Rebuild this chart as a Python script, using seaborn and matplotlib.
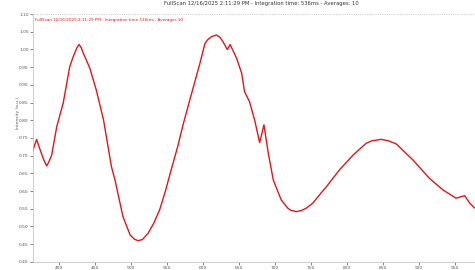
import matplotlib
matplotlib.use("Agg")
import numpy as np
import pandas as pd
import matplotlib.pyplot as plt
from matplotlib.ticker import MultipleLocator
import seaborn as sns

# Spectrum values
wavelength = [364, 369, 374, 379, 383, 386, 390, 397, 406, 415, 420, 425, 428, 431,
              434, 443, 452, 462, 473, 478, 489, 499, 505, 510, 516, 524, 532, 540,
              548, 556, 565, 573, 585, 596, 603, 607, 612, 619, 624, 628, 634, 638,
              647, 654, 658, 665, 672, 679, 685, 691, 698, 709, 718, 722, 730, 737,
              744, 753, 760, 772, 790, 809, 827, 835, 848, 858, 869, 892, 915, 934,
              952, 964, 971, 978]
intensity = [0.716, 0.746, 0.716, 0.688, 0.671, 0.682, 0.702, 0.782, 0.849, 0.951,
             0.980, 1.005, 1.014, 1.005, 0.989, 0.947, 0.885, 0.801, 0.669, 0.631,
             0.528, 0.476, 0.464, 0.460, 0.463, 0.481, 0.510, 0.547, 0.600, 0.660,
             0.725, 0.791, 0.880, 0.961, 1.017, 1.028, 1.036, 1.041, 1.034, 1.022,
             1.000, 1.014, 0.975, 0.933, 0.881, 0.852, 0.801, 0.737, 0.787, 0.707,
             0.631, 0.575, 0.552, 0.546, 0.542, 0.545, 0.552, 0.566, 0.584, 0.613,
             0.660, 0.702, 0.735, 0.742, 0.746, 0.742, 0.733, 0.688, 0.636, 0.603,
             0.580, 0.587, 0.566, 0.552]

title = "FullScan 12/16/2025 2:11:29 PM - Integration time: 536ms - Averages: 10"
series_name = "FullScan 12/16/2025 2:11:29 PM - Integration time 536ms - Averages 10"

df = pd.DataFrame({"wavelength": wavelength, "intensity": intensity})

sns.set_style("white")
fig = plt.figure(figsize=(4.75, 2.7), dpi=100)
ax = fig.add_axes([0.0695, 0.03, 0.93, 0.918])

sns.lineplot(data=df, x="wavelength", y="intensity", color="#e0161c",
             linewidth=1.0, ax=ax)

ax.set_xlim(364, 978)
ax.set_ylim(0.40, 1.10)
ax.xaxis.set_major_locator(MultipleLocator(50))
ax.xaxis.set_minor_locator(MultipleLocator(10))
ax.yaxis.set_major_locator(MultipleLocator(0.05))
ax.yaxis.set_major_formatter(matplotlib.ticker.FormatStrFormatter("%.2f"))

ax.tick_params(axis="both", which="major", labelsize=3.2, colors="#555555",
               length=2, width=0.5, pad=1)
ax.tick_params(axis="x", which="minor", length=1, width=0.4, color="#999999")
ax.tick_params(axis="x", which="major", bottom=True)
ax.tick_params(axis="y", which="major", left=True)

for side in ["top", "right"]:
    ax.spines[side].set_visible(False)
for side in ["left", "bottom"]:
    ax.spines[side].set_color("#bbbbbb")
    ax.spines[side].set_linewidth(0.5)

# faint dotted line at the top of the plot area
ax.axhline(1.10, color="#bbbbbb", linestyle=":", linewidth=0.6, clip_on=False)

ax.set_xlabel("")
ax.set_ylabel("Intensity (a.u.)", fontsize=3.2, color="#555555", labelpad=2)
ax.yaxis.set_label_coords(-0.03, 0.6)

fig.suptitle(title, fontsize=3.8, color="#333333", x=0.55, y=0.995)
ax.text(0.005, 0.985, series_name, transform=ax.transAxes, fontsize=3.0,
        color="#e0161c", va="top", ha="left")

fig.savefig("out.png", dpi=100)
